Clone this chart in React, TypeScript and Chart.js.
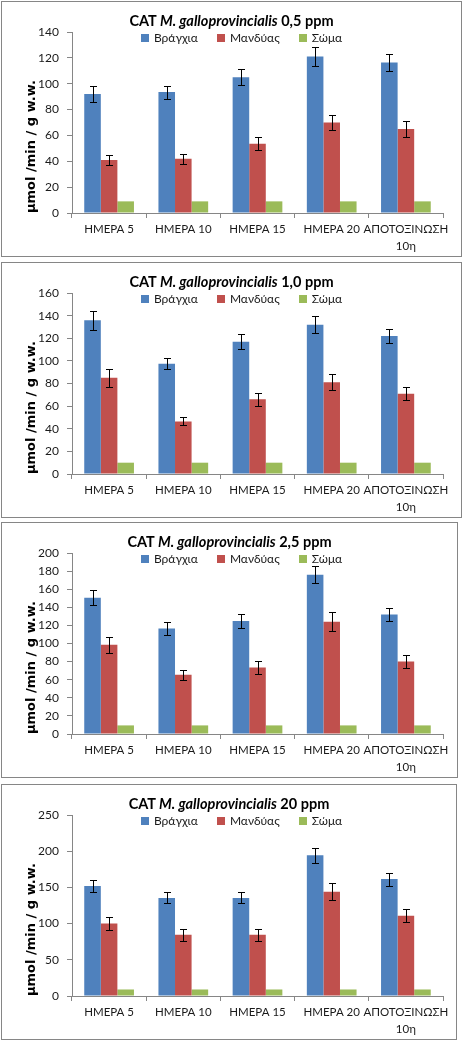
import React, { useEffect, useRef } from 'react';
import { Chart, registerables } from 'chart.js';

Chart.register(...registerables);

// ---------- data ----------
const categories: (string | string[])[] = ['ΗΜΕΡΑ 5', 'ΗΜΕΡΑ 10', 'ΗΜΕΡΑ 15', 'ΗΜΕΡΑ 20', ['ΑΠΟΤΟΞΙΝΩΣΗ', '10η']];
const seriesNames = ['Βράγχια', 'Μανδύας', 'Σώμα'];
const seriesColors = ['#4F81BD', '#C0504D', '#9BBB59'];
const titlePrefix = 'CAT';
const speciesName = 'M. galloprovincialis';
const concentrations = ['0,5 ppm', '1,0 ppm', '2,5 ppm', '20 ppm'];
const yAxisTitle = 'μmol /min / g w.w.';

const gills05 = [92, 93.5, 105, 121, 116.5];
const gillsErr05 = [6, 5, 6, 7.5, 6.5];
const mantle05 = [41, 42, 53.5, 70, 65];
const mantleErr05 = [4, 4, 5, 6, 6];
const body05 = [9, 9, 9, 9, 9];

const gills10 = [136, 97.5, 117, 132, 122];
const gillsErr10 = [8.5, 5, 6.5, 7.5, 6.5];
const mantle10 = [85, 46.5, 66, 81, 71];
const mantleErr10 = [8, 3.5, 5.5, 7, 6];
const body10 = [10, 10, 10, 10, 10];

const gills25 = [150.5, 116.5, 125, 176, 132];
const gillsErr25 = [8.5, 7, 7.5, 9.5, 7.5];
const mantle25 = [98.5, 65.5, 73.5, 124, 80];
const mantleErr25 = [8.5, 5.5, 7, 10.5, 7.5];
const body25 = [9.5, 9.5, 9.5, 9.5, 9.5];

const gills20 = [152, 135.5, 135.5, 194.5, 161.5];
const gillsErr20 = [8, 7.5, 7.5, 10.5, 9];
const mantle20 = [100, 84.5, 84.5, 144, 111];
const mantleErr20 = [9, 8, 8, 12, 9];
const body20 = [9, 9, 9, 9, 9];

const yMaxes = [140, 160, 200, 250];
const ySteps = [20, 20, 20, 50];

const panelValues = [
  [gills05, mantle05, body05],
  [gills10, mantle10, body10],
  [gills25, mantle25, body25],
  [gills20, mantle20, body20],
];
const panelErrors = [
  [gillsErr05, mantleErr05, null],
  [gillsErr10, mantleErr10, null],
  [gillsErr25, mantleErr25, null],
  [gillsErr20, mantleErr20, null],
];

// ---------- layout ----------
const panelTops = [1, 262, 522, 784];
const panelWidths = [461, 461, 457, 456];
const panelHeight = 256;
const axisColor = '#868686';
const textColor = '#1a1a1a';
const labelFamily = 'Lato, "Noto Sans", sans-serif';

const errorBarPlugin = {
  id: 'errorBars',
  afterDatasetsDraw(chart: any) {
    const ctx = chart.ctx;
    const yScale = chart.scales.y;
    chart.data.datasets.forEach((ds: any, i: number) => {
      const errs = ds.errors;
      if (!errs) return;
      const meta = chart.getDatasetMeta(i);
      meta.data.forEach((bar: any, j: number) => {
        const v = ds.data[j];
        const e = errs[j];
        if (!e) return;
        const x = Math.round(bar.x) + 0.5;
        const yt = Math.round(yScale.getPixelForValue(v + e)) + 0.5;
        const yb = Math.round(yScale.getPixelForValue(v - e)) + 0.5;
        ctx.save();
        ctx.strokeStyle = '#000';
        ctx.lineWidth = 1;
        ctx.beginPath();
        ctx.moveTo(x, yt);
        ctx.lineTo(x, yb);
        ctx.moveTo(x - 3.5, yt);
        ctx.lineTo(x + 3.5, yt);
        ctx.moveTo(x - 3.5, yb);
        ctx.lineTo(x + 3.5, yb);
        ctx.stroke();
        ctx.restore();
      });
    });
  },
};

function Panel({ index }: { index: number }) {
  const ref = useRef<HTMLCanvasElement | null>(null);
  const w = panelWidths[index];
  const cw = w - 2;
  const ch = panelHeight - 2;

  useEffect(() => {
    if (!ref.current) return;
    const datasets = seriesNames.map((name, s) => ({
      label: name,
      data: panelValues[index][s],
      errors: panelErrors[index][s],
      backgroundColor: seriesColors[s],
      borderWidth: 0,
      categoryPercentage: 0.67,
      barPercentage: 1,
    }));
    const chart = new Chart(ref.current, {
      type: 'bar',
      data: { labels: categories, datasets },
      plugins: [errorBarPlugin],
      options: {
        responsive: false,
        animation: false,
        devicePixelRatio: 1,
        layout: { padding: { top: 30, right: cw - 441, bottom: 0, left: 0 } },
        plugins: {
          legend: { display: false },
          title: { display: false },
          tooltip: { enabled: false },
        },
        scales: {
          x: {
            offset: true,
            grid: { display: true, drawOnChartArea: false, drawTicks: true, tickLength: 5, color: axisColor, offset: true },
            border: { display: true, color: axisColor },
            ticks: {
              color: textColor,
              font: { family: labelFamily, size: 11.5, lineHeight: 1.45 },
              padding: 3,
              maxRotation: 0,
              autoSkip: false,
            },
            afterFit: (s: any) => { s.height = 43; },
          },
          y: {
            min: 0,
            max: yMaxes[index],
            ticks: {
              stepSize: ySteps[index],
              color: textColor,
              font: { family: labelFamily, size: 12 },
              padding: 8,
            },
            grid: { display: true, drawOnChartArea: false, drawTicks: true, tickLength: 5, color: axisColor },
            border: { display: true, color: axisColor },
            title: {
              display: true,
              text: yAxisTitle,
              align: 'start',
              color: '#000',
              font: { family: '"DejaVu Sans", sans-serif', size: 13, weight: 'bold' },
              padding: { top: 22, bottom: 0 },
            },
            afterFit: (s: any) => { s.width = 70; },
          },
        },
      } as any,
    });
    return () => chart.destroy();
  }, [index]);

  return (
    <div
      style={{
        position: 'absolute',
        left: 1,
        top: panelTops[index],
        width: w,
        height: panelHeight,
        border: `1px solid ${axisColor}`,
        boxSizing: 'border-box',
        background: '#fff',
      }}
    >
      <canvas ref={ref} width={cw} height={ch} style={{ position: 'absolute', left: 0, top: 0, width: cw, height: ch }} />
      <div
        style={{
          position: 'absolute',
          left: 0,
          top: 10,
          width: '100%',
          textAlign: 'center',
          font: 'bold 14.5px Lato, "Noto Sans", sans-serif',
          lineHeight: '18px',
          color: '#000',
          whiteSpace: 'nowrap',
        }}
      >
        {titlePrefix} <i>{speciesName}</i> {concentrations[index]}
      </div>
      <div
        style={{
          position: 'absolute',
          left: 139,
          top: 28,
          display: 'flex',
          alignItems: 'center',
          gap: 19,
          font: '12px Lato, "Noto Sans", sans-serif',
          lineHeight: '16px',
          color: textColor,
          whiteSpace: 'nowrap',
        }}
      >
        {seriesNames.map((name, s) => (
          <div key={name} style={{ display: 'flex', alignItems: 'center' }}>
            <span style={{ display: 'inline-block', width: 8, height: 8, background: seriesColors[s], marginRight: 5 }} />
            <span>{name}</span>
          </div>
        ))}
      </div>
    </div>
  );
}

export default function App() {
  return (
    <div style={{ position: 'absolute', left: 0, top: 0, width: 463, height: 1043, background: '#fff' }}>
      {concentrations.map((_, i) => (
        <Panel key={i} index={i} />
      ))}
    </div>
  );
}
